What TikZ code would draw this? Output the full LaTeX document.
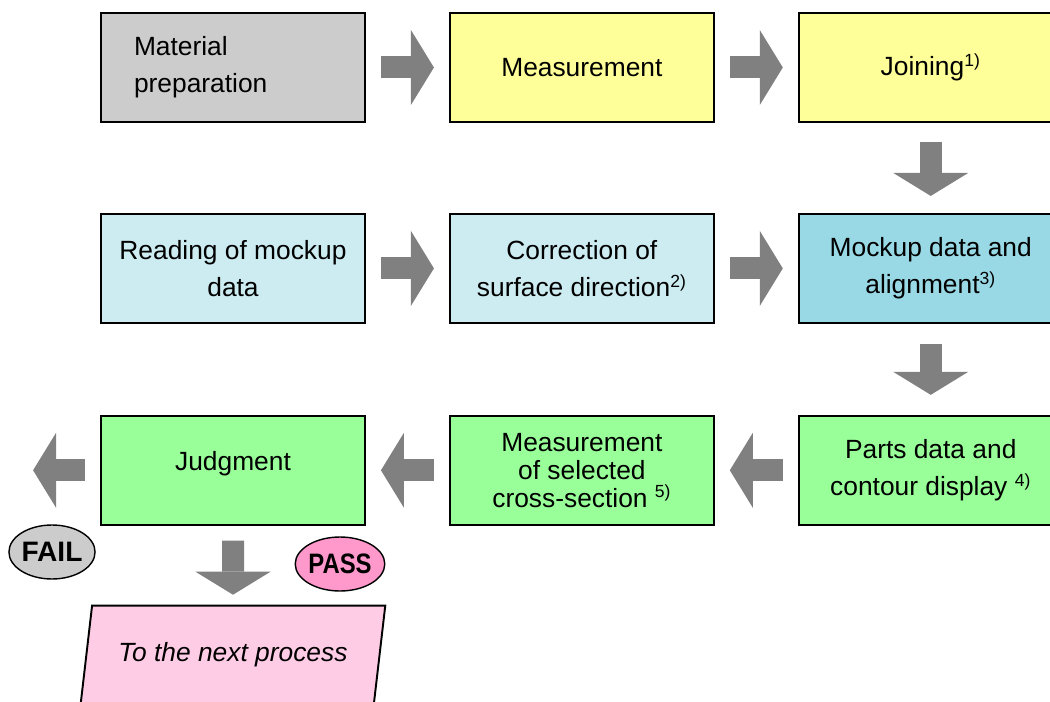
\documentclass[tikz,border=0pt]{standalone}
\usepackage{fontspec}
\setmainfont{Liberation Sans}
\usetikzlibrary{positioning,shapes.geometric,arrows.meta}

\definecolor{matgray}{HTML}{CCCCCC}
\definecolor{stepyellow}{HTML}{FFFF99}
\definecolor{paleblue}{HTML}{CCECF2}
\definecolor{midblue}{HTML}{99D9E6}
\definecolor{stepgreen}{HTML}{99FF99}
\definecolor{arrowgray}{HTML}{808080}
\definecolor{passpink}{HTML}{FF99CC}
\definecolor{nextpink}{HTML}{FFCCE6}

\newcommand{\refno}[1]{\textsuperscript{\fontsize{10}{10}\selectfont #1}}

\begin{document}
\begin{tikzpicture}[x=0.02cm,y=-0.02cm,node distance=1.8cm and 1.66cm,
		stage/.style={rectangle,draw,line width=1.1pt,minimum width=5.28cm,minimum height=2.18cm,
			align=center,font=\fontsize{15}{21}\selectfont},
		fat/.style={-{Triangle[length=0.46cm,width=1.5cm,line width=0pt]},line width=0.44cm,
			arrowgray,shorten <=0.3cm,shorten >=0.3cm},
		verdict/.style={ellipse,draw,line width=0.8pt,minimum width=1.72cm,minimum height=1.08cm,
			inner sep=0pt,font=\fontsize{16}{16}\selectfont\bfseries}]
		\clip (0,0) rectangle (1050,702);

		% first row
		\node[stage,fill=matgray,align=left,text width=3.96cm] (mat) at (233,67.5) {Material\\preparation};
		\node[stage,fill=stepyellow] (meas) [right=of mat] {Measurement};
		\node[stage,fill=stepyellow] (join) [right=of meas] {Joining\refno{1)}};

		% second row
		\node[stage,fill=midblue] (mock) [below=of join] {Mockup data and\\alignment\refno{3)}};
		\node[stage,fill=paleblue] (corr) [left=of mock] {Correction of\\surface direction\refno{2)}};
		\node[stage,fill=paleblue] (read) [left=of corr] {Reading of mockup\\data};

		% third row
		\node[stage,fill=stepgreen] (parts) [below=1.82cm of mock] {Parts data and\\contour display \refno{4)}};
		\node[stage,fill=stepgreen,font=\fontsize{15}{15.9}\selectfont] (sect) [left=of parts]
			{Measurement\\of selected\\cross-section \refno{5)}};
		\node[stage,fill=stepgreen,text depth=0.38cm] (judg) [left=of sect] {Judgment};

		\node[trapezium,trapezium left angle=75,trapezium right angle=105,trapezium stretches=true,
			draw,line width=1.1pt,fill=nextpink,minimum width=6.1cm,minimum height=1.96cm,
			font=\fontsize{15}{21}\selectfont\itshape] (next) [below=1.58cm of judg] {To the next process};
		\coordinate[left=1.34cm of judg.west] (reject);

		\node[verdict,fill=matgray] (fail) at (52,552) {FAIL};
		\node[verdict,fill=passpink] (pass) at (340,564) {\scalebox{0.85}[1]{PASS}};

		% connection
		\draw[fat] (mat) -- (meas);
		\draw[fat] (meas) -- (join);
		\draw[fat,shorten <=0.38cm,shorten >=0.34cm] (join) -- (mock);
		\draw[fat] (read) -- (corr);
		\draw[fat] (corr) -- (mock);
		\draw[fat,shorten <=0.4cm,shorten >=0.4cm] (mock) -- (parts);
		\draw[fat] (parts) -- (sect);
		\draw[fat] (sect) -- (judg);
		\draw[fat,shorten >=0pt] (judg) -- (reject);
		\draw[fat,shorten >=0.2cm] (judg) -- (next);
	\end{tikzpicture}
\end{document}
